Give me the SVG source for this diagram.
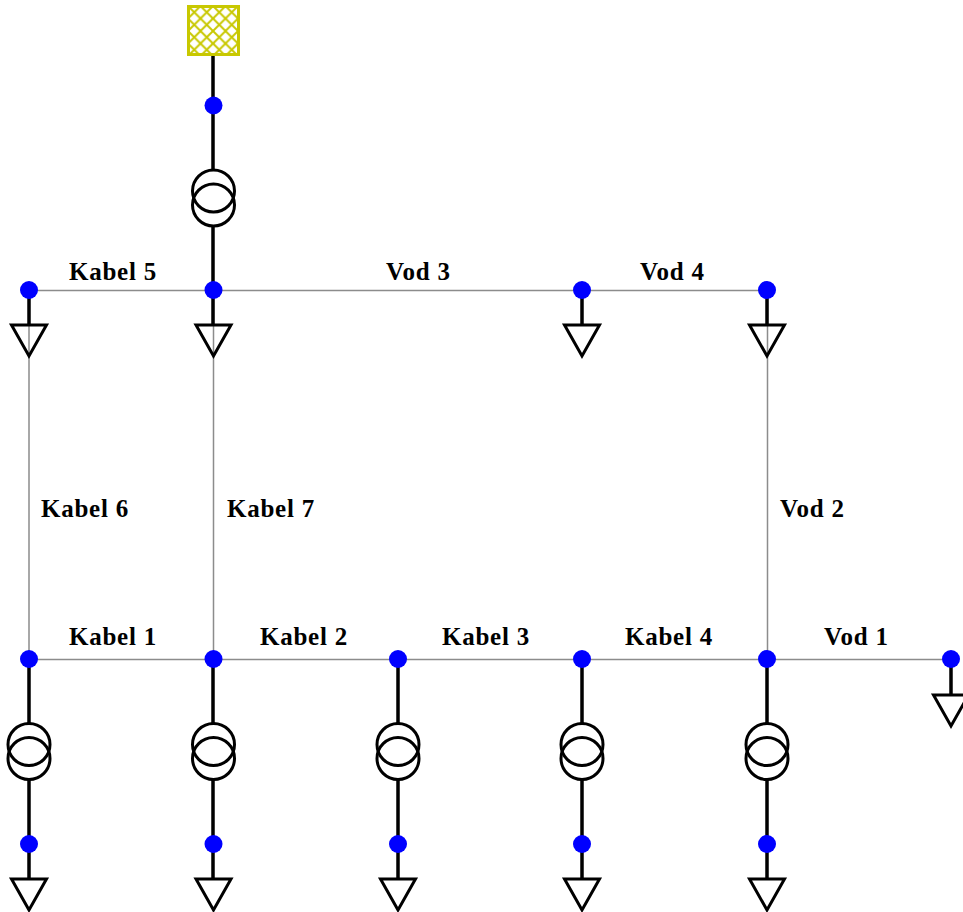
<svg xmlns="http://www.w3.org/2000/svg" width="963" height="912" viewBox="0 0 963 912">
<style>
.t{font-family:"Liberation Serif","Times New Roman",serif;font-weight:bold;font-size:25px;fill:#000;letter-spacing:.75px}
.g{stroke:#8c8c8c;stroke-width:1.5;fill:none}
.k{stroke:#000;stroke-width:3.5;fill:none}
.s{stroke:#000;stroke-width:3;fill:none}
.d{fill:#0000ff}
</style>
<defs>
<pattern id="hatch" width="12.500" height="12.500" patternUnits="userSpaceOnUse" patternTransform="translate(188 6)">
<path d="M0 0L12.500 12.500M12.500 0L0 12.500" stroke="#c8c800" stroke-width="2"/>
</pattern>
<g id="tr"><circle cx="0" cy="-7" r="21" class="s"/><circle cx="0" cy="7" r="21" class="s"/></g>
<path id="gnd" d="M-17.500 0H17.500L0 31Z" class="s"/>
<circle id="dot" r="9" class="d"/>
</defs>
<g id="connectors">
<path class="g" d="M29 290.500H767M29 659.500H951M29 290V659M213.500 290V659M767.500 290V659"/>
<path class="k" d="M213 55V170M213 226V325M29 290V325M582 290V325M767 290V325M951 659V695"/>
<path class="k" d="M29 659V723M29 780V879M213 659V723M213 780V879M398 659V723M398 780V879M582 659V723M582 780V879M767 659V723M767 780V879"/>
</g>
<g id="source"><rect x="188.500" y="6.500" width="50" height="48" fill="url(#hatch)" stroke="#c8c800" stroke-width="3"/></g>
<g id="n-top"><use href="#dot" x="213.500" y="105.500"/></g>
<g id="tr-main"><use href="#tr" x="213.500" y="198"/></g>
<g id="n1"><use href="#gnd" x="29" y="325"/><use href="#dot" x="29" y="290"/></g>
<g id="n2"><use href="#gnd" x="213.500" y="325"/><use href="#dot" x="213.500" y="290"/></g>
<g id="n3"><use href="#gnd" x="582" y="325"/><use href="#dot" x="582" y="290"/></g>
<g id="n4"><use href="#gnd" x="767" y="325"/><use href="#dot" x="767" y="290"/></g>
<g id="n5"><use href="#dot" x="29" y="659"/><use href="#tr" x="29" y="751.500"/><use href="#dot" x="29" y="844"/><use href="#gnd" x="29" y="879"/></g>
<g id="n6"><use href="#dot" x="213.500" y="659"/><use href="#tr" x="213.500" y="751.500"/><use href="#dot" x="213.500" y="844"/><use href="#gnd" x="213.500" y="879"/></g>
<g id="n7"><use href="#dot" x="398" y="659"/><use href="#tr" x="398" y="751.500"/><use href="#dot" x="398" y="844"/><use href="#gnd" x="398" y="879"/></g>
<g id="n8"><use href="#dot" x="582" y="659"/><use href="#tr" x="582" y="751.500"/><use href="#dot" x="582" y="844"/><use href="#gnd" x="582" y="879"/></g>
<g id="n9"><use href="#dot" x="767" y="659"/><use href="#tr" x="767" y="751.500"/><use href="#dot" x="767" y="844"/><use href="#gnd" x="767" y="879"/></g>
<g id="n10"><use href="#dot" x="951" y="659"/><use href="#gnd" x="951" y="695"/></g>
<g id="labels">
<text class="t" x="69" y="280">Kabel 5</text>
<text class="t" x="386" y="280">Vod 3</text>
<text class="t" x="640" y="280">Vod 4</text>
<text class="t" x="41" y="517">Kabel 6</text>
<text class="t" x="227" y="517">Kabel 7</text>
<text class="t" x="780" y="517">Vod 2</text>
<text class="t" x="69" y="645">Kabel 1</text>
<text class="t" x="260" y="645">Kabel 2</text>
<text class="t" x="442" y="645">Kabel 3</text>
<text class="t" x="625" y="645">Kabel 4</text>
<text class="t" x="824" y="645">Vod 1</text>
</g>
</svg>
